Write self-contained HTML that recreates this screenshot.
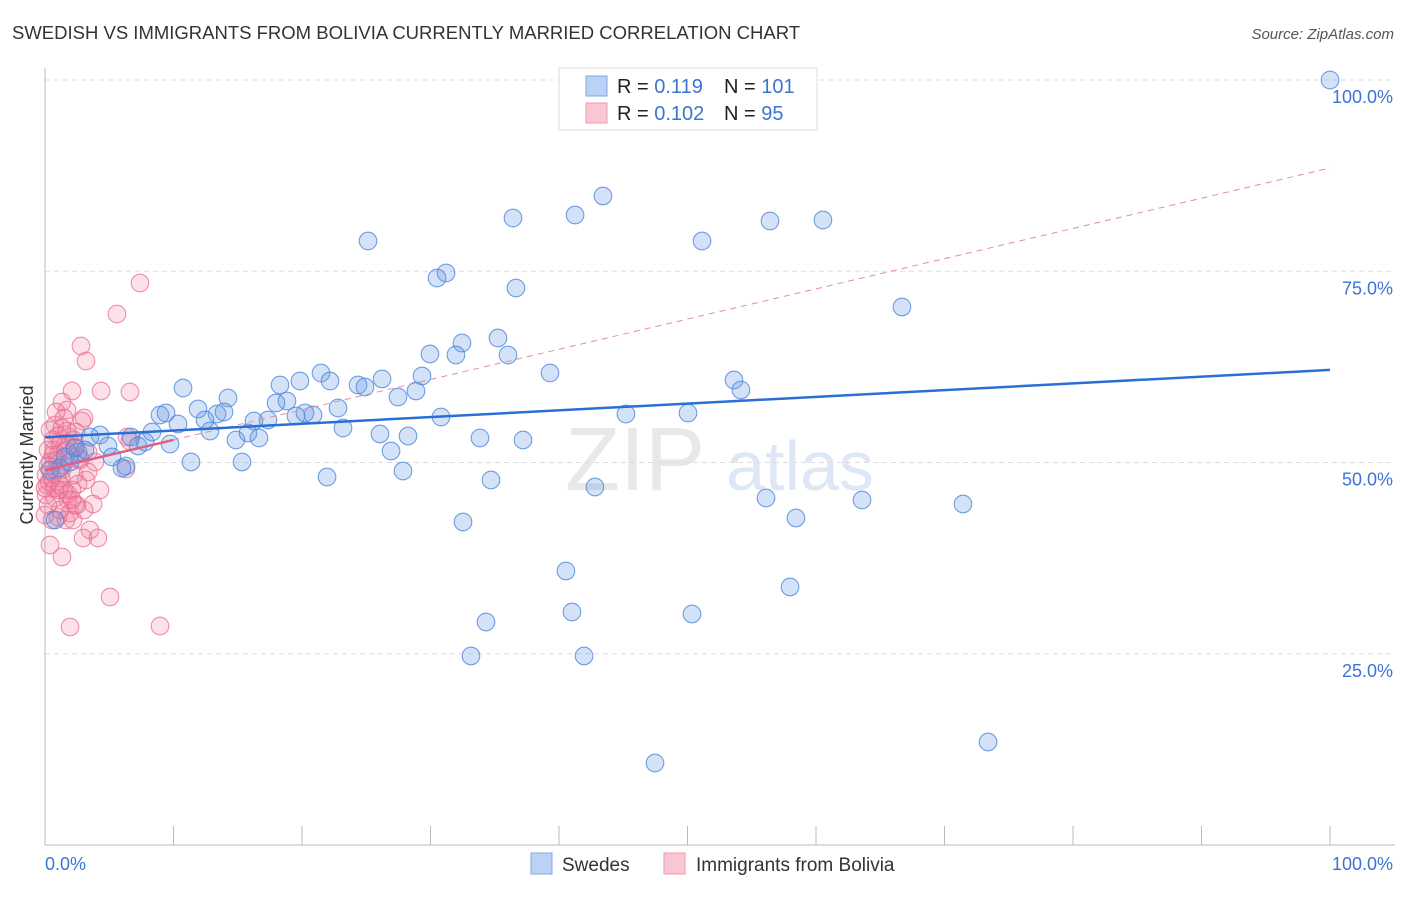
<!DOCTYPE html>
<html><head><meta charset="utf-8"><style>
body{margin:0;background:#fff;font-family:"Liberation Sans",sans-serif}
svg text{font-family:"Liberation Sans",sans-serif}
</style></head><body>
<svg id="c" width="1406" height="892">
<text x="12" y="39" font-size="18.5" fill="#333">SWEDISH VS IMMIGRANTS FROM BOLIVIA CURRENTLY MARRIED CORRELATION CHART</text>
<text x="1394" y="39" font-size="15" fill="#555" font-style="italic" text-anchor="end">Source: ZipAtlas.com</text>
<text x="635" y="490" font-size="90" fill="#e8e8e8" font-family="Liberation Serif" text-anchor="middle">ZIP</text>
<text x="800" y="490" font-size="70" fill="#dde7f5" text-anchor="middle">atlas</text>
<g id="grid"></g><g id="pts"></g><g id="lines"></g>
<text transform="translate(33,455) rotate(-90)" font-size="18" fill="#333" text-anchor="middle">Currently Married</text>
<text x="45" y="870" font-size="18" fill="#3b74d4">0.0%</text>
<text x="1393" y="870" font-size="18" fill="#3b74d4" text-anchor="end">100.0%</text>
<g>
<rect x="559" y="68" width="258" height="62" fill="#fff" stroke="#ddd"/>
<rect x="586" y="76" width="21" height="20" fill="#b9d2f5" stroke="#7fa9e6"/>
<rect x="586" y="103" width="21" height="20" fill="#f9c6d4" stroke="#ee9ab2"/>
<text x="617" y="93" font-size="20" fill="#222">R = <tspan fill="#3b74d4">0.119</tspan></text>
<text x="724" y="93" font-size="20" fill="#222">N = <tspan fill="#3b74d4">101</tspan></text>
<text x="617" y="120" font-size="20" fill="#222">R = <tspan fill="#3b74d4">0.102</tspan></text>
<text x="724" y="120" font-size="20" fill="#222">N = <tspan fill="#3b74d4"> 95</tspan></text>
</g>
<g>
<rect x="531" y="853" width="21" height="21" fill="#b9d2f5" stroke="#7fa9e6"/>
<text x="562" y="871" font-size="19" fill="#333">Swedes</text>
<rect x="664" y="853" width="21" height="21" fill="#f9c6d4" stroke="#ee9ab2"/>
<text x="696" y="871" font-size="19" fill="#333">Immigrants from Bolivia</text>
</g>
</svg>
<script>
const yTicks=[25,50,75,100];
const yTickLabels=["25.0%","50.0%","75.0%","100.0%"];
const xTicks=[0,10,20,30,40,50,60,70,80,90,100];
const bluePx=[[1330,80],[645,80],[603,196],[575,215],[513,218],[770,221],[823,220],[368,241],[702,241],[437,278],[446,273],[516,288],[902,307],[498,338],[462,343],[430,354],[456,355],[508,355],[321,373],[300,381],[280,385],[330,381],[183,388],[550,373],[382,379],[358,385],[365,387],[422,376],[734,380],[741,390],[416,391],[398,397],[228,398],[287,401],[276,403],[198,409],[160,415],[166,413],[217,414],[224,412],[338,408],[296,416],[313,415],[305,413],[441,417],[626,414],[688,413],[268,420],[254,421],[178,424],[205,420],[210,431],[343,428],[248,433],[152,432],[131,437],[236,440],[259,438],[380,434],[408,436],[480,438],[523,440],[100,435],[90,437],[145,442],[170,444],[108,446],[112,457],[138,446],[391,451],[191,462],[242,462],[126,466],[122,468],[403,471],[491,480],[327,477],[595,487],[766,498],[862,500],[963,504],[463,522],[796,518],[566,571],[790,587],[572,612],[486,622],[692,614],[471,656],[584,656],[655,763],[988,742],[78,452],[65,457],[55,520],[60,468],[75,448],[85,450],[70,462],[50,470]];
const pinkPx=[[140,283],[117,314],[81,346],[86,361],[72,391],[101,391],[130,392],[62,402],[67,410],[84,418],[64,418],[55,425],[67,431],[82,421],[74,440],[53,440],[60,445],[48,450],[58,455],[70,454],[80,458],[50,462],[62,470],[88,472],[52,478],[47,485],[60,485],[72,490],[100,490],[55,498],[68,500],[93,504],[75,505],[48,505],[60,510],[70,513],[90,530],[83,538],[98,538],[62,557],[110,597],[70,627],[160,626],[126,469],[127,437],[130,441],[56,470],[63,465],[45,488],[46,495],[52,520],[58,517],[73,520],[68,494],[78,484],[50,430],[58,436],[66,443],[75,447],[80,460],[88,452],[95,462],[46,475],[49,482],[55,488],[61,478],[64,490],[72,500],[77,505],[84,510],[53,455],[57,460],[66,450],[69,437],[76,432],[62,428],[56,412],[45,515],[50,545],[66,520],[48,466],[54,450],[59,490],[74,475],[86,480]];
const blueX=bluePx.map(p=>+((p[0]-45)/12.85).toFixed(2));
const blueY=bluePx.map(p=>+((845-p[1])/7.65).toFixed(2));
const pinkX=pinkPx.map(p=>+((p[0]-45)/12.85).toFixed(2));
const pinkY=pinkPx.map(p=>+((845-p[1])/7.65).toFixed(2));
const blueTrend=[53.3,62.1];
const pinkTrend=[49.0,88.5];
const X=v=>45+v*12.85, Y=v=>845-v*7.65;
const NS="http://www.w3.org/2000/svg";
function mk(t,a,p){const e=document.createElementNS(NS,t);for(const k in a)e.setAttribute(k,a[k]);p.appendChild(e);return e;}
const g=document.getElementById('grid');
yTicks.forEach((t,i)=>{
 const l=mk('line',{x1:45,x2:1395,y1:Y(t),y2:Y(t),stroke:'#ddd','stroke-dasharray':'5,4'},g);
 
 
 const tx=mk('text',{x:1393,y:Y(t)+23,'font-size':18,fill:'#3b74d4','text-anchor':'end'},g);
 tx.textContent=yTickLabels[i];
 
 
});
const ax=mk('line',{x1:45,x2:1395,y1:845,y2:845,stroke:'#bbb'},g);


const ay=mk('line',{x1:45,x2:45,y1:68,y2:845,stroke:'#bbb'},g);


xTicks.forEach(t=>{const l=mk('line',{x1:X(t),x2:X(t),y1:826,y2:845,stroke:'#bbb'},g);
 
 });
const pg=document.getElementById('pts');
pinkX.forEach((x,i)=>{const c=mk('circle',{cx:X(x),cy:Y(pinkY[i]),r:8.8,fill:'rgba(240,120,155,0.22)',stroke:'rgba(232,110,146,0.75)','stroke-width':1.1},pg);
 
 });
blueX.forEach((x,i)=>{const c=mk('circle',{cx:X(x),cy:Y(blueY[i]),r:8.8,fill:'rgba(100,150,225,0.28)',stroke:'rgba(80,135,220,0.8)','stroke-width':1.1},pg);
 
 });
const lg=document.getElementById('lines');
const pd=mk('line',{x1:X(10),y1:Y(pinkTrend[0]+(pinkTrend[1]-pinkTrend[0])*0.1),x2:X(100),y2:Y(pinkTrend[1]),stroke:'#e58aa5','stroke-dasharray':'6,5','stroke-width':1},lg);


const ps=mk('line',{x1:X(0),y1:Y(pinkTrend[0]),x2:X(10),y2:Y(pinkTrend[0]+(pinkTrend[1]-pinkTrend[0])*0.1),stroke:'#dd5f86','stroke-width':2.5},lg);


const bl=mk('line',{x1:X(0),y1:Y(blueTrend[0]),x2:X(100),y2:Y(blueTrend[1]),stroke:'#2a6fd6','stroke-width':2.5},lg);


</script>
</body></html>
